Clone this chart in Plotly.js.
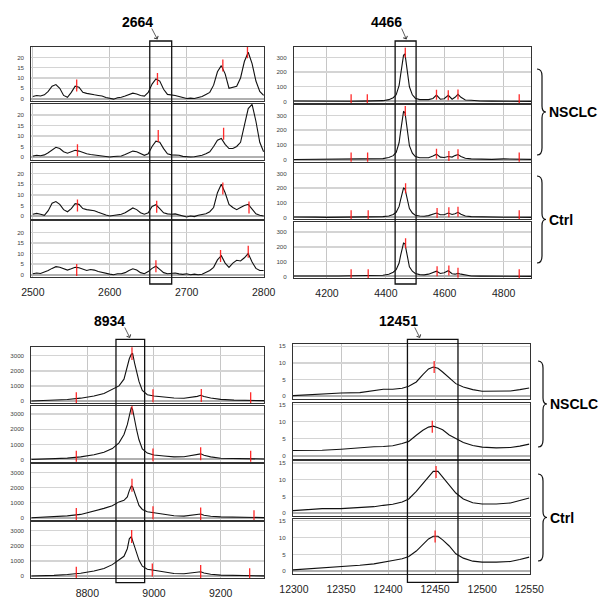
<!DOCTYPE html>
<html><head><meta charset="utf-8">
<script src="https://cdn.plot.ly/plotly-3.0.1.min.js"></script>
<style>html,body{margin:0;padding:0;background:#fff}#chart{width:600px;height:606px}</style>
</head><body><div id="chart"></div>
<script>
// ---------- DATA ----------
// Panel A : m/z 2664
const mzA = [2500,2505,2510,2515,2520,2525,2530,2535,2540,2545,2550,2555,2560,2565,2570,2575,2580,2585,2590,2595,2600,2605,2610,2615,2620,2625,2630,2635,2640,2645,2650,2655,2660,2665,2670,2675,2680,2685,2690,2695,2700,2705,2710,2715,2720,2725,2730,2735,2740,2745,2750,2755,2760,2765,2770,2775,2780,2785,2790,2795,2800];
const a_nsclc1 = [1.0,1.5,1.2,1.8,3.5,6.0,6.8,5.0,1.5,0.6,3.0,6.0,5.5,3.0,2.5,2.0,1.8,1.5,1.2,0.5,0.0,-0.3,0.4,0.6,1.2,2.0,2.6,2.2,1.5,1.2,3.0,7.0,9.5,8.5,4.5,2.0,1.8,1.5,1.0,0.5,0.0,0.2,0.0,0.5,1.0,2.0,3.0,6.5,13.0,16.0,12.0,5.0,5.5,6.0,10.0,18.0,22.5,17.0,8.5,3.5,1.5];
const a_nsclc2 = [0.5,0.8,0.6,1.0,2.0,3.5,4.6,4.0,2.5,1.8,2.5,3.2,2.8,2.0,1.5,1.2,1.0,0.8,0.6,0.3,0.0,0.2,0.4,0.5,1.2,2.0,2.8,2.5,1.5,0.8,1.5,5.0,7.5,7.0,4.0,1.5,1.0,0.9,0.8,0.3,0.0,0.0,0.1,0.4,0.8,1.5,2.5,5.0,8.0,8.8,6.0,4.0,4.0,5.0,7.0,15.0,23.0,25.0,17.0,7.0,2.5];
const a_ctrl1 = [0.8,1.2,0.8,0.3,2.5,6.0,6.8,5.5,3.0,2.0,3.5,5.8,5.5,3.5,3.0,2.8,2.5,1.8,1.0,0.5,0.0,0.2,0.5,0.8,1.5,2.5,3.8,3.0,1.5,0.8,1.5,4.5,5.3,3.5,1.5,1.0,0.8,1.0,0.5,-0.3,-0.5,0.0,-0.3,0.3,0.5,1.0,2.0,4.0,11.0,15.0,11.0,5.5,4.0,3.0,4.0,5.0,5.5,3.0,1.0,0.3,0.0];
const a_ctrl2 = [0.5,0.8,0.6,1.2,2.0,3.0,3.8,3.5,2.8,2.2,2.8,3.5,3.3,2.5,2.0,2.5,2.2,1.5,1.0,0.8,0.3,0.0,0.5,0.5,1.0,2.0,2.8,2.2,1.0,0.5,1.5,3.0,4.0,2.5,1.0,0.5,0.5,0.8,0.4,0.2,0.5,0.0,0.3,0.0,0.2,1.0,2.0,3.5,7.0,9.0,5.5,3.5,5.5,6.8,6.5,8.0,10.0,6.0,3.0,2.0,2.0];
const markA_x = [[2557,2662,2747,2779],[2558,2663,2748],[2558,2661,2747,2781],[2557,2660,2744,2780]];
const markA_y = [[6.3,9.5,16,22.5],[3.2,10,11],[5,4.4,13,4],[2.3,4,8.8,10.8]];

// Panel B : m/z 4466
const mzB = [4088,4120,4160,4200,4240,4280,4320,4360,4390,4410,4425,4435,4445,4450,4455,4460,4465,4470,4475,4480,4490,4500,4515,4530,4545,4560,4572,4585,4598,4612,4625,4635,4645,4655,4670,4690,4720,4760,4800,4840,4893];
const b_nsclc1 = [3,2,1,0,0,1,2,2,5,12,25,45,110,180,255,315,325,260,170,100,45,22,12,10,12,20,43,15,18,42,15,28,48,28,10,8,3,2,1,1,0];
const b_nsclc2 = [2,3,5,6,8,6,10,8,8,15,28,50,115,190,270,325,320,250,165,95,45,22,14,12,14,25,38,18,15,22,18,28,35,22,10,6,4,3,6,5,3];
const b_ctrl1 = [3,4,2,0,0,0,1,2,5,10,20,35,75,120,170,200,195,150,100,60,30,15,10,8,12,22,30,18,18,30,20,25,35,22,10,5,3,2,1,1,0];
const b_ctrl2 = [3,4,2,3,3,4,5,6,8,14,28,45,90,140,195,225,220,170,110,65,35,20,12,10,15,28,35,20,25,38,18,15,20,15,10,3,2,1,0,0,0];
const markB_x = [[4282,4337,4466,4572,4612,4645,4853],[4282,4338,4466,4572,4614,4645,4853],[4282,4340,4467,4574,4614,4645,4853],[4282,4340,4467,4574,4614,4645,4853]];
const markB_y = [[15,15,335,45,42,48,15],[15,15,330,40,25,38,15],[15,15,200,30,35,38,15],[15,15,225,35,40,25,15]];

// Panel C : m/z 8934
const mzC = [8632,8660,8700,8740,8780,8820,8850,8875,8895,8910,8920,8926,8932,8936,8942,8948,8955,8965,8980,9000,9030,9060,9090,9115,9130,9140,9150,9170,9200,9240,9280,9330];
const c_nsclc1 = [0,20,50,100,190,330,500,750,1000,1450,2300,2800,3100,3150,2500,1850,1300,700,420,330,260,200,180,240,310,380,300,200,110,60,40,30];
const c_nsclc2 = [0,15,40,90,170,310,480,720,1100,1650,2300,2850,3450,3300,2550,1950,1300,700,420,290,230,170,180,250,340,370,280,170,80,50,40,30];
const c_ctrl1 = [0,20,60,120,220,440,620,800,1050,1150,1380,1800,2100,2050,1650,1250,820,550,400,330,220,130,110,180,250,250,170,100,60,30,20,10];
const c_ctrl2 = [0,10,40,100,180,330,500,750,1050,1300,1800,2450,2600,2350,1900,1550,1050,650,450,380,260,170,150,220,300,280,200,120,60,40,30,10];
const markC_x = [[8767,8934,8997,9142,9290],[8767,8934,8997,9140,9290],[8767,8934,8997,9140,9300],[8767,8933,8995,9140,9287]];
const markC_y = [[150,3150,350,370,150],[150,3400,300,370,150],[220,2150,330,250,60],[180,2600,400,300,80]];

// Panel D : m/z 12451
const mzD = [12299,12310,12330,12350,12370,12385,12395,12405,12415,12422,12430,12437,12443,12448,12453,12458,12465,12472,12480,12490,12500,12515,12530,12540,12550];
const d_nsclc1 = [0.2,0.4,0.8,1.0,1.1,1.8,2.1,2.1,2.4,3.0,4.3,6.5,8.2,8.8,8.4,7.3,5.5,3.8,2.8,2.0,1.5,1.5,1.6,2.0,2.5];
const d_nsclc2 = [1.5,1.5,1.6,1.9,2.4,2.6,2.7,2.9,3.6,4.2,6.0,7.5,8.4,8.7,8.2,7.6,6.1,5.0,3.9,3.0,2.5,2.3,2.4,2.8,3.4];
const d_ctrl1 = [0.7,0.9,1.3,1.3,1.6,1.9,2.3,2.6,3.3,4.2,6.5,8.8,11.0,12.5,12.5,10.8,8.5,6.0,4.2,3.1,2.7,2.7,3.0,3.7,4.5];
const d_ctrl2 = [0.4,0.6,1.1,1.3,1.8,2.2,2.8,3.2,3.7,4.4,6.0,8.0,9.6,10.4,10.4,9.3,7.5,5.2,3.9,3.0,2.7,2.7,2.9,3.5,4.2];
const markD_x = [[12449],[12447],[12451],[12450]];
const markD_y = [[8.8],[8.5],[12.3],[10.3]];

// Tick labels / peak labels
const ticksA_x = [2500,2600,2700,2800], ticksA_y = [0,5,10,15,20];
const ticksB_x = [4200,4400,4600,4800], ticksB_y = [0,100,200,300];
const ticksC_x = [8800,9000,9200], ticksC_y = [0,1000,2000,3000];
const ticksD_x = [12300,12350,12400,12450,12500,12550], ticksD_y = [0,5,10,15];
const peakLabels = ['2664','4466','8934','12451'];
const peakWindows = [[2652,2680.5],[4431.5,4502.7],[8886,8972],[12420.6,12474.3]];
const groupLabels = ['NSCLC','Ctrl'];

// ---------- LAYOUT GEOMETRY (pixels) ----------
const W = 600, H = 606;
const PX = p => p / W, PY = p => 1 - p / H;
const panels = [
  {mz: mzA, rows: [a_nsclc1,a_nsclc2,a_ctrl1,a_ctrl2], mx: markA_x, my: markA_y, tx: ticksA_x, ty: ticksA_y,
   x: [31.3, 264], xr: [2498, 2800.5], yr: [-1.2, 25.2], half: 6,
   rowsPx: [[46.7,101],[104,159.5],[162.7,218.5],[221.3,277.3]], boxY: [41, 284],
   lab: [137, 22], arrow: {tail: [151, 27], tip: [157.5, 39.5]}},
  {mz: mzB, rows: [b_nsclc1,b_nsclc2,b_ctrl1,b_ctrl2], mx: markB_x, my: markB_y, tx: ticksB_x, ty: ticksB_y,
   x: [294, 531], xr: [4088, 4893], yr: [-13, 370], half: 5,
   rowsPx: [[47.3,103.3],[105,161.7],[163.3,219.3],[221.7,278.3]], boxY: [41, 284],
   lab: [386, 22], arrow: {tail: [401, 27], tip: [406.5, 39.5]}},
  {mz: mzC, rows: [c_nsclc1,c_nsclc2,c_ctrl1,c_ctrl2], mx: markC_x, my: markC_y, tx: ticksC_x, ty: ticksC_y,
   x: [31.3, 264], xr: [8632, 9330], yr: [-150, 3560], half: 6.5,
   rowsPx: [[347.3,403.3],[405.7,461.7],[464,520],[522,578.3]], boxY: [339.3, 582.7],
   lab: [110, 320.5], arrow: {tail: [124, 326], tip: [130, 338]}},
  {mz: mzD, rows: [d_nsclc1,d_nsclc2,d_ctrl1,d_ctrl2], mx: markD_x, my: markD_y, tx: ticksD_x, ty: ticksD_y,
   x: [293, 529.7], xr: [12299, 12550.5], yr: [-0.9, 15.6], half: 6,
   rowsPx: [[344.3,399.3],[402.7,458.7],[461,516],[518.7,574.3]], boxY: [339.3, 582.3],
   lab: [398, 320.5], arrow: {tail: [414, 326], tip: [420, 338]}}
];
const braces = [
  {x0: 537, yt: 69, yb: 155, label: 0},
  {x0: 537, yt: 176, yb: 263, label: 1},
  {x0: 538, yt: 361, yb: 447, label: 0},
  {x0: 538, yt: 474, yb: 561, label: 1}
];

const FONT = 'Liberation Sans, Arial, Helvetica, sans-serif';
const traces = [];
const layout = {
  width: W, height: H, margin: {l:0, r:0, t:0, b:0, pad:0},
  paper_bgcolor: '#fff', plot_bgcolor: '#fff', showlegend: false,
  font: {family: FONT, color: '#222'},
  annotations: [], shapes: []
};

panels.forEach((P, p) => {
  P.rows.forEach((vals, r) => {
    const idx = p * 4 + r + 1;
    const xn = idx === 1 ? 'xaxis' : 'xaxis' + idx;
    const yn = idx === 1 ? 'yaxis' : 'yaxis' + idx;
    const xid = idx === 1 ? 'x' : 'x' + idx;
    const yid = idx === 1 ? 'y' : 'y' + idx;
    const rp = P.rowsPx[r];
    layout[xn] = {
      domain: [PX(P.x[0]), PX(P.x[1])], range: P.xr, anchor: yid,
      tickmode: 'array', tickvals: P.tx, ticktext: P.tx.map(String), showticklabels: r === 3,
      tickfont: {size: 10.5, color: '#222', family: FONT}, ticks: '', ticklabelstandoff: 5,
      showgrid: true, gridcolor: '#c6c6c6', gridwidth: 1,
      showline: true, mirror: true, linecolor: '#333', linewidth: 1, zeroline: false, fixedrange: true
    };
    layout[yn] = {
      domain: [PY(rp[1]), PY(rp[0])], range: P.yr, anchor: xid,
      tickmode: 'array', tickvals: P.ty, ticktext: P.ty.map(String),
      tickfont: {size: 6.2, color: '#444', family: FONT}, ticks: '', ticklabelstandoff: 5,
      showgrid: true, gridcolor: '#d4d4d4', gridwidth: 1.4,
      showline: true, mirror: true, linecolor: '#333', linewidth: 1,
      zeroline: true, zerolinecolor: '#b0b0b0', zerolinewidth: 2, fixedrange: true
    };
    traces.push({x: P.mz, y: vals, xaxis: xid, yaxis: yid, type: 'scatter', mode: 'lines',
      line: {color: '#111', width: 1.1}, hoverinfo: 'skip'});
    const h = P.half * (P.yr[1] - P.yr[0]) / (rp[1] - rp[0]);
    const sx = [], sy = [];
    P.mx[r].forEach((m, k) => { sx.push(m, m, null); sy.push(P.my[r][k] - h, P.my[r][k] + h, null); });
    traces.push({x: sx, y: sy, xaxis: xid, yaxis: yid, type: 'scatter', mode: 'lines',
      line: {color: 'rgba(255,20,20,0.9)', width: 1.3}, hoverinfo: 'skip'});
  });
  const bottomX = 'x' + (p * 4 + 4);
  layout.shapes.push({type: 'rect', xref: bottomX, yref: 'paper',
    x0: peakWindows[p][0], x1: peakWindows[p][1], y0: PY(P.boxY[1]), y1: PY(P.boxY[0]),
    line: {color: '#111', width: 1.3}, fillcolor: 'rgba(0,0,0,0)', layer: 'above'});
  layout.annotations.push({xref: 'paper', yref: 'paper', x: PX(P.lab[0]), y: PY(P.lab[1]),
    text: '<b>' + peakLabels[p] + '</b>', showarrow: false, xanchor: 'center', yanchor: 'middle',
    font: {size: 14, color: '#000', family: FONT}});
  layout.annotations.push({xref: 'paper', yref: 'paper', x: PX(P.arrow.tip[0]), y: PY(P.arrow.tip[1]),
    text: '', showarrow: true, arrowhead: 4, arrowsize: 1.1, arrowwidth: 0.8, arrowcolor: '#333',
    ax: P.arrow.tail[0] - P.arrow.tip[0], ay: P.arrow.tail[1] - P.arrow.tip[1], standoff: 0, startstandoff: 0});
});

braces.forEach(b => {
  const x0 = b.x0, x1 = b.x0 + 5, x2 = b.x0 + 9, ym = (b.yt + b.yb) / 2;
  const pt = (x, y) => PX(x).toFixed(5) + ',' + PY(y).toFixed(5);
  const path = 'M ' + pt(x0, b.yt) + ' Q ' + pt(x1, b.yt) + ' ' + pt(x1, b.yt + 7) +
    ' L ' + pt(x1, ym - 6) + ' Q ' + pt(x1, ym) + ' ' + pt(x2, ym) +
    ' Q ' + pt(x1, ym) + ' ' + pt(x1, ym + 6) +
    ' L ' + pt(x1, b.yb - 7) + ' Q ' + pt(x1, b.yb) + ' ' + pt(x0, b.yb);
  layout.shapes.push({type: 'path', xref: 'paper', yref: 'paper', path: path,
    line: {color: '#111', width: 1.2}});
  layout.annotations.push({xref: 'paper', yref: 'paper', x: PX(x2 + 1), y: PY(ym),
    text: '<b>' + groupLabels[b.label] + '</b>', showarrow: false, xanchor: 'left', yanchor: 'middle',
    font: {size: 14, color: '#000', family: FONT}});
});

Plotly.newPlot('chart', traces, layout, {staticPlot: true, displayModeBar: false});
</script>
</body></html>
